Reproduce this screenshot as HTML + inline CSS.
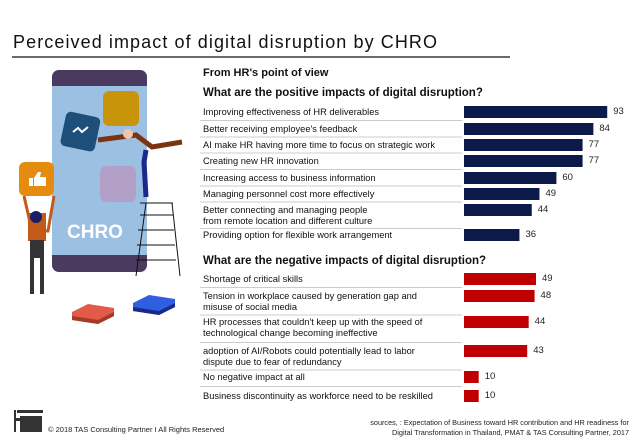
<!DOCTYPE html>
<html><head><meta charset="utf-8"><style>
body{margin:0;background:#fff;}
svg{display:block;font-family:"Liberation Sans",sans-serif;}
</style></head><body>
<svg id="c" width="638" height="442" viewBox="0 0 638 442">
<text x="13" y="48" font-size="18" textLength="424" lengthAdjust="spacing" fill="#111">Perceived impact of digital disruption by CHRO</text>
<line x1="12" y1="57" x2="510" y2="57" stroke="#111" stroke-width="1.2"/>
<g>
<rect x="52" y="70" width="95" height="202" rx="7" fill="#9cc0e2"/>
<path d="M59 70h81a7 7 0 0 1 7 7v9h-95v-9a7 7 0 0 1 7-7z" fill="#4a3a60"/>
<path d="M52 255h95v10a7 7 0 0 1 -7 7h-81a7 7 0 0 1 -7-7z" fill="#4a3a60"/>
<rect x="103" y="91" width="36" height="35" rx="6" fill="#c8950a"/>
<rect x="100" y="166" width="36" height="36" rx="6" fill="#b3a0c9"/>
<rect x="63" y="114" width="35" height="35" rx="5" fill="#1e4f7a" transform="rotate(12 80 131)"/>
<path d="M73 132l5-4 4 4 6-5" stroke="#fff" stroke-width="2" fill="none"/>
<text x="67" y="238" font-size="19" font-weight="bold" fill="#fff">CHRO</text>
<rect x="19" y="162" width="35" height="34" rx="6" fill="#e58c0f"/>
<rect x="29" y="178" width="4" height="8" fill="#fff"/><path d="M34 186h12v-9h-6l1-5h-3l-4 6z" fill="#fff"/>
<path d="M24 196l8 35h16l6-35" stroke="#c25a1a" stroke-width="3" fill="none"/>
<rect x="28" y="213" width="18" height="28" fill="#c25a1a"/>
<circle cx="36" cy="217" r="6" fill="#1b1f6a"/>
<rect x="30" y="240" width="14" height="18" fill="#333"/>
<path d="M32 258v36M42 258v36" stroke="#333" stroke-width="4"/>
<path d="M98 140l38-5 16 12 30-5" stroke="#7a3412" stroke-width="5" fill="none"/>
<circle cx="128" cy="134" r="5" fill="#f2c4a8"/>
<path d="M146 150l-2 12 2 35" stroke="#1b2a8a" stroke-width="5" fill="none"/>
<path d="M140 203h33M136 276l10-73M180 276l-8-73M140 215h33M138 230h36M137 245h38M136 260h40" stroke="#111" stroke-width="1"/>
<path d="M72 312l16-8 26 4v8l-16 8-26-4z" fill="#e25a48"/>
<path d="M72 316v4l26 4 16-8v-4l-16 8z" fill="#a33a2a"/>
<path d="M133 303l16-8 26 4v8l-16 8-26-4z" fill="#2f5fe0"/>
<path d="M133 307v4l26 4 16-8v-4l-16 8z" fill="#1b2a8a"/>
</g>
<text x="203" y="76" font-size="11" font-weight="bold" fill="#111">From HR's point of view</text>
<text x="203" y="96" font-size="11.5" font-weight="bold" fill="#111">What are the positive impacts of digital disruption?</text>
<text x="203" y="264" font-size="11.5" font-weight="bold" fill="#111">What are the negative impacts of digital disruption?</text>
<g id="pos"></g><g id="neg"></g>
<g>
<rect x="14" y="410" width="2" height="22" fill="#333"/><rect x="17" y="410" width="26" height="3" fill="#333"/>
<rect x="20" y="416" width="22" height="16" fill="#333"/><rect x="14" y="418" width="7" height="3" fill="#333"/>
</g>
<text x="48" y="432" font-size="7.5" fill="#222">© 2018 TAS Consulting Partner  I  All Rights Reserved</text>
<text x="629" y="425" font-size="7.3" fill="#222" text-anchor="end">sources, : Expectation of Business toward HR contribution and HR readiness for</text>
<text x="629" y="435" font-size="7.3" fill="#222" text-anchor="end">Digital Transformation in Thailand, PMAT &amp; TAS Consulting Partner, 2017</text>
</svg>
<script>
const posLabels=[["Improving effectiveness of HR deliverables"],["Better receiving employee's feedback"],["AI make HR having more time to focus on strategic work"],["Creating new HR innovation"],["Increasing access to business information"],["Managing personnel cost more effectively"],["Better connecting and managing people","from remote location and different culture"],["Providing option for flexible work arrangement"]];
const posValues=[93,84,77,77,60,49,44,36];
const negLabels=[["Shortage of critical skills"],["Tension in workplace caused by generation gap and","misuse of social media"],["HR processes that couldn't keep up with the speed of","technological change becoming ineffective"],["adoption of AI/Robots could potentially lead to labor","dispute due to fear of redundancy"],["No negative impact at all"],["Business discontinuity as workforce need to be reskilled"]];
const negValues=[49,48,44,43,10,10];
const NS="http://www.w3.org/2000/svg";
const x0=464;
const xPos=v=>v*1.54, xNeg=v=>v*1.47;
const posY=[112,129,145,161,178,194,210,235];
const negY=[279,296,322,351,377,396];
function draw(gid,labels,values,yc,xs,color,prefix){
 const g=document.getElementById(gid);
 values.forEach((v,i)=>{
  const y=yc[i];
  if(i>0){const l=document.createElementNS(NS,"line");
   const ly=(yc[i-1]+y)/2+ (labels[i-1].length>1?6:0);
   l.setAttribute("x1",200);l.setAttribute("x2",462);l.setAttribute("y1",ly);l.setAttribute("y2",ly);
   l.setAttribute("stroke","#bbb");l.setAttribute("stroke-width","0.8");
   
   
   g.appendChild(l);}
  const r=document.createElementNS(NS,"rect");
  r.setAttribute("x",x0);r.setAttribute("y",y-6);r.setAttribute("width",xs(v));r.setAttribute("height",12);r.setAttribute("fill",color);
  
  
  g.appendChild(r);
  const t=document.createElementNS(NS,"text");
  t.setAttribute("x",x0+xs(v)+6);t.setAttribute("y",y+2);t.setAttribute("font-size","9.5");t.setAttribute("fill","#222");
  t.textContent=v;
  
  
  g.appendChild(t);
  const lab=labels[i];
  lab.forEach((s,j)=>{
   const tt=document.createElementNS(NS,"text");
   const off=lab.length>1?(j===0?3:14):3;
   tt.setAttribute("x",203);tt.setAttribute("y",y+off);tt.setAttribute("font-size","9.3");tt.setAttribute("fill","#111");
   tt.textContent=s;
   
   
   g.appendChild(tt);
  });
 });
}
draw("pos",posLabels,posValues,posY,xPos,"#0c1a4a","positive");
draw("neg",negLabels,negValues,negY,xNeg,"#c00000","negative");
</script>
</body></html>
